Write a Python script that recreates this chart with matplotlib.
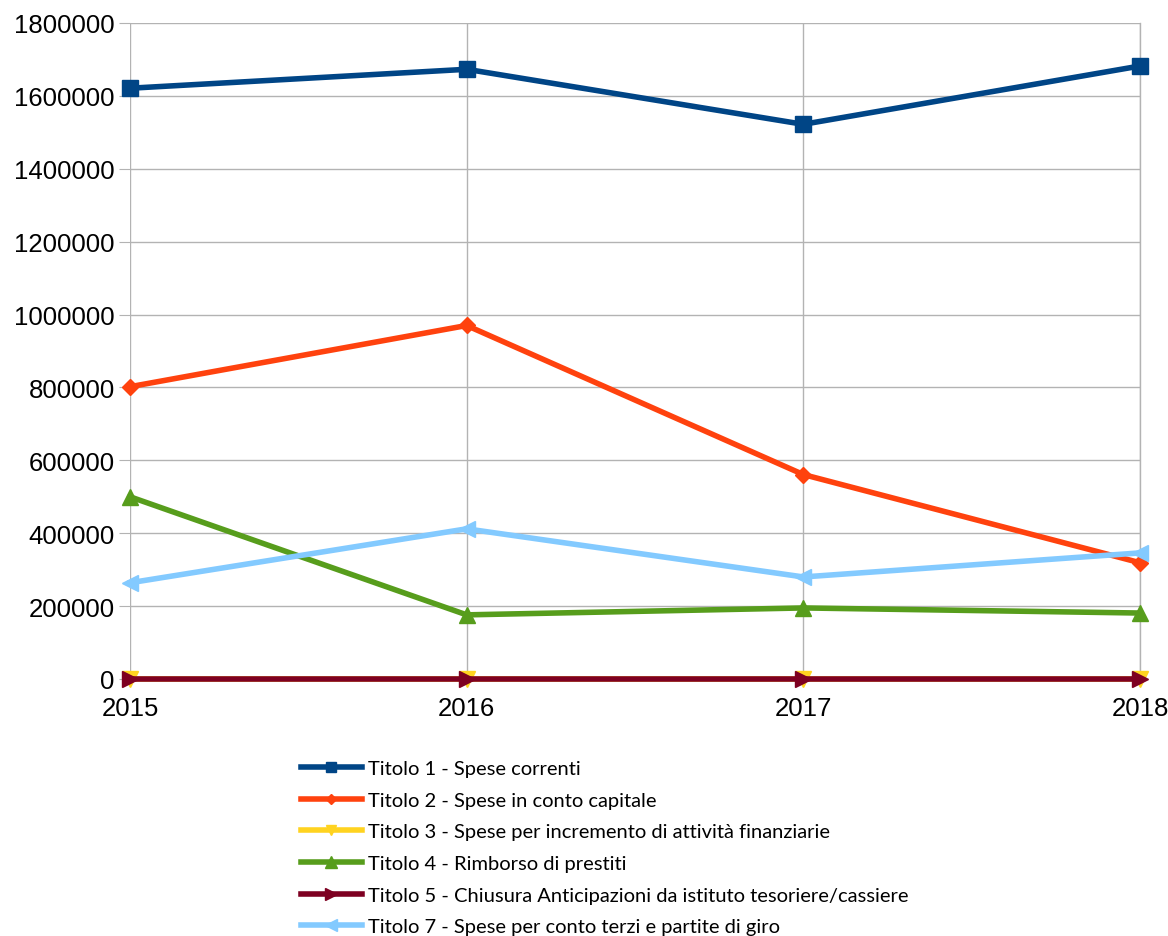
import numpy as np
import matplotlib.pyplot as plt

# Data
years = [2015, 2016, 2017, 2018]
titolo1 = [1621000, 1673000, 1522000, 1682000]
titolo2 = [802000, 970000, 561000, 319000]
titolo3 = [0, 0, 0, 0]
titolo4 = [500000, 176000, 195000, 181000]
titolo5 = [0, 0, 0, 0]
titolo7 = [264000, 412000, 280000, 346000]

labels = ['Titolo 1 - Spese correnti',
          'Titolo 2 - Spese in conto capitale',
          'Titolo 3 - Spese per incremento di attività finanziarie',
          'Titolo 4 - Rimborso di prestiti',
          'Titolo 5 - Chiusura Anticipazioni da istituto tesoriere/cassiere',
          'Titolo 7 - Spese per conto terzi e partite di giro']
colors = ['#004586', '#ff420e', '#ffd320', '#579d1c', '#7e0021', '#83caff']
markers = ['s', 'D', 'v', '^', '>', '<']
msizes = [11, 8, 11, 12, 12, 12]
series = [titolo1, titolo2, titolo3, titolo4, titolo5, titolo7]

fig = plt.figure(figsize=(11.68, 9.37), dpi=100)
ax = fig.add_axes([130/1168, 1-680/937, 1010/1168, 656/937])

for s, lab, c, m, ms in zip(series, labels, colors, markers, msizes):
    ax.plot(years, s, color=c, marker=m, markersize=ms, linewidth=4,
            label=lab, clip_on=False, zorder=3)

ax.set_xlim(2015, 2018)
ax.set_ylim(0, 1800000)
ax.set_xticks(years)
ax.set_yticks(np.arange(0, 1800001, 200000))
ax.set_yticklabels([str(v) for v in range(0, 1800001, 200000)])
ax.grid(True, color='#b3b3b3', linewidth=1)
ax.axvline(2018, color='#b3b3b3', linewidth=1, zorder=0, clip_on=False)
ax.set_axisbelow(True)
for sp in ax.spines.values():
    sp.set_visible(False)
ax.tick_params(axis='y', length=8, color='#b3b3b3', labelsize=18.5, pad=3)
ax.tick_params(axis='x', length=0, labelsize=18.5, pad=12)
for t in ax.get_xticklabels() + ax.get_yticklabels():
    t.set_family('Liberation Sans')

leg = fig.legend(loc='upper left', bbox_to_anchor=(283/1168, 1-743/937),
                 frameon=False, handlelength=3.0, markerscale=0.7,
                 labelspacing=0.72, handletextpad=0.3,
                 prop={'family': 'Lato', 'size': 14.5})

fig.savefig('out.png', dpi=100)
